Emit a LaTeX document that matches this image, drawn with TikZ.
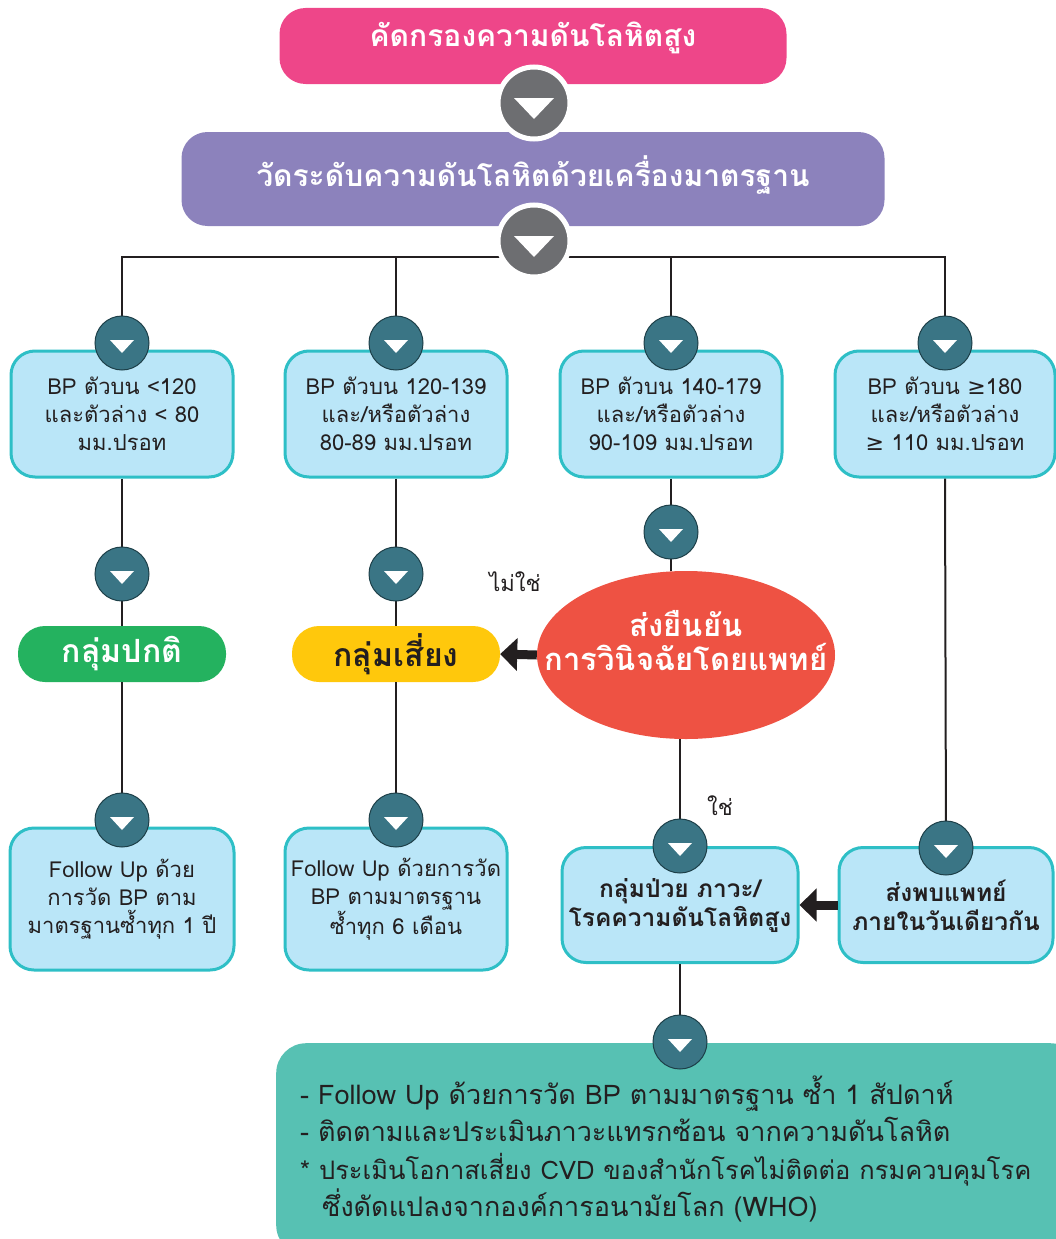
\documentclass[tikz,border=0pt]{standalone}
\usepackage{fontspec}
\setmainfont[Script=Thai]{Loma}
\newfontfamily\symfont{DejaVu Sans}
\usetikzlibrary{shapes.geometric,arrows.meta,positioning}

\definecolor{pinkbg}{HTML}{EE4689}
\definecolor{btngray}{HTML}{6D6E71}
\definecolor{purplebg}{HTML}{8C82BC}
\definecolor{tealbtn}{HTML}{3A7585}
\definecolor{tealedge}{HTML}{1D3F48}
\definecolor{boxfill}{HTML}{BAE6F8}
\definecolor{boxline}{HTML}{2EBFC6}
\definecolor{greenbg}{HTML}{24B25F}
\definecolor{yellowbg}{HTML}{FFC80C}
\definecolor{redbg}{HTML}{EE5243}
\definecolor{advicebg}{HTML}{57C1B3}
\definecolor{textdark}{HTML}{231F20}

\tikzset{
  conn/.style={draw=textdark, line width=2pt},
  blockarrow/.style={draw=textdark, line width=9pt, -{Triangle[width=32pt,length=17pt]}},
  graybtn/.style={circle, fill=btngray, draw=white, line width=5pt, minimum size=72pt, inner sep=0pt,
    path picture={\fill[white] ([xshift=-20pt,yshift=5pt]path picture bounding box.center) -- ++(40pt,0pt) -- ++(-20pt,-21pt) -- cycle;}},
  tealdot/.style={circle, fill=tealbtn, draw=tealedge, line width=1pt, minimum size=54pt, inner sep=0pt,
    path picture={\fill[white] ([xshift=-12pt,yshift=3pt]path picture bounding box.center) -- ++(24pt,0pt) -- ++(-12pt,-13pt) -- cycle;}},
  titlebox/.style={rounded corners=26pt, inner sep=0pt},
  titletext/.style={text=white, font=\fontsize{30}{34}\selectfont\bfseries},
  bpbox/.style={draw=boxline, fill=boxfill, line width=3pt, rounded corners=24pt, align=center, inner sep=0pt,
    text=textdark, font=\fontsize{22}{28}\selectfont},
  boldbox/.style={bpbox, font=\fontsize{24.5}{29}\selectfont\bfseries},
  pillbox/.style={rounded corners=27pt, minimum width=208pt, minimum height=56pt, inner sep=0pt,
    font=\fontsize{32}{34}\selectfont\bfseries},
  edgelabel/.style={text=textdark, font=\fontsize{22}{24}\selectfont}
}

\begin{document}
\begin{tikzpicture}[x=1pt,y=-1pt]
  \clip (0,0) rectangle (1056,1239);

  % top of the chart
  \node[titlebox, fill=pinkbg, minimum width=507pt, minimum height=76pt,
    label={[titletext, yshift=8pt]center:คัดกรองความดันโลหิตสูง}] (screen) at (533,46) {};
  \node[titlebox, fill=purplebg, minimum width=703pt, minimum height=94pt,
    label={[titletext, yshift=4pt]center:วัดระดับความดันโลหิตด้วยเครื่องมาตรฐาน}] (measure) at (533,179) {};
  \coordinate (bus) at (534,257);

  % BP levels
  \node[bpbox, minimum width=222pt, minimum height=126pt] (bp1) at (122,414) {BP ตัวบน <120\\และตัวล่าง < 80\\มม.ปรอท};
  \node[bpbox, minimum width=222pt, minimum height=126pt] (bp2) at (396,414) {BP ตัวบน 120-139\\และ/หรือตัวล่าง\\80-89 มม.ปรอท};
  \node[bpbox, minimum width=222pt, minimum height=126pt] (bp3) at (671,414) {BP ตัวบน 140-179\\และ/หรือตัวล่าง\\90-109 มม.ปรอท};
  \node[bpbox, minimum width=220pt, minimum height=126pt] (bp4) at (945,414) {BP ตัวบน {\symfont ≥}180\\และ/หรือตัวล่าง\\{\symfont ≥} 110 มม.ปรอท};

  % groups
  \node[pillbox, fill=greenbg, text=white] (normal) at (122,654) {กลุ่มปกติ};
  \node[pillbox, fill=yellowbg, text=textdark] (risk) at (396,654) {กลุ่มเสี่ยง};
  \node[ellipse, fill=redbg, minimum width=298pt, minimum height=168pt, inner sep=0pt,
    label={[titletext, font=\fontsize{31}{34}\selectfont\bfseries, align=center, yshift=14pt]center:ส่งยืนยัน\\การวินิจฉัยโดยแพทย์}] (confirm) at (686,655) {};

  % follow up
  \node[bpbox, minimum width=224pt, minimum height=142pt] (fu1) at (122,899) {Follow Up ด้วย\\การวัด BP ตาม\\มาตรฐานซ้ำทุก 1 ปี};
  \node[bpbox, minimum width=222pt, minimum height=142pt] (fu2) at (396,899) {Follow Up ด้วยการวัด\\BP ตามมาตรฐาน\\ซ้ำทุก 6 เดือน};
  \node[boldbox, minimum width=236pt, minimum height=115pt] (sick) at (680,905) {กลุ่มป่วย ภาวะ/\\โรคความดันโลหิตสูง};
  \node[boldbox, minimum width=214pt, minimum height=115pt] (refer) at (946,905) {ส่งพบแพทย์\\ภายในวันเดียวกัน};

  \node[anchor=north west, fill=advicebg, rounded corners=30pt, minimum height=212pt, inner xsep=24pt,
    text width=756pt, align=left, text=textdark, font=\fontsize{27}{37.5}\selectfont] (advice) at (276,1043)
    {- Follow Up ด้วยการวัด BP ตามมาตรฐาน ซ้ำ 1 สัปดาห์\\
     - ติดตามและประเมินภาวะแทรกซ้อน จากความดันโลหิต\\
     \mbox{\fontsize{25.5}{37.5}\selectfont * ประเมินโอกาสเสี่ยง CVD ของสำนักโรคไม่ติดต่อ กรมควบคุมโรค}\\
     \hspace*{22pt}ซึ่งดัดแปลงจากองค์การอนามัยโลก (WHO)};

  % connectors
  \draw[conn] (screen.south) -- (measure.north);
  \draw[conn] (measure.south) -- (bus);
  \draw[conn] (bp1.north) |- (bp4.north |- bus) -- (bp4.north);
  \draw[conn] (bp2.north) -- (bp2.north |- bus);
  \draw[conn] (bp3.north) -- (bp3.north |- bus);
  \draw[conn] (bp1.south) -- (normal.north);
  \draw[conn] (bp2.south) -- (risk.north);
  \draw[conn] (bp3.south) -- (bp3.south |- confirm.north);
  \draw[conn] (bp4.south) -- (refer.north);
  \draw[conn] (normal.south) -- (fu1.north);
  \draw[conn] (risk.south) -- (fu2.north);
  \draw[conn] (confirm.south -| sick.north) -- (sick.north);
  \draw[conn] (sick.south) -- (sick.south |- advice.north);
  \draw[blockarrow] (confirm.west) -- (risk.east);
  \draw[blockarrow] (refer.west) -- (sick.east);
  \node[edgelabel] (nolbl) at (515,582) {ไม่ใช่};
  \node[edgelabel] (yeslbl) at (720,806) {ใช่};

  % buttons on the lines
  \node[graybtn] (g1) at (534,103) {};
  \node[graybtn] (g2) at (534,241) {};
  \foreach \x/\y/\n in {122/343/t1, 396/343/t2, 671/343/t3, 945/343/t4,
                        122/574/t5, 396/574/t6, 671/532/t7,
                        122/820/t8, 396/820/t9, 680/846/t10, 946/848/t11, 680/1042/t12}
    \node[tealdot] (\n) at (\x,\y) {};
\end{tikzpicture}
\end{document}
